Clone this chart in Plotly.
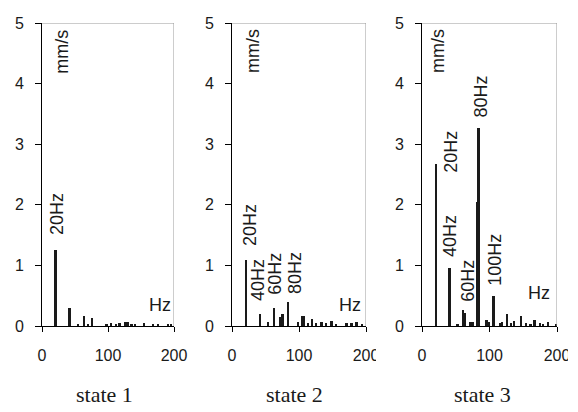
import plotly.graph_objects as go

# ---- data ----
s1_freq = [21, 42, 55, 64, 70, 76, 98, 105, 112, 118, 127, 131, 136, 141, 155, 169, 176, 191, 196]
s1_amp = [1.25, 0.29, 0.03, 0.165, 0.03, 0.13, 0.03, 0.05, 0.04, 0.05, 0.06, 0.06, 0.04, 0.03, 0.05, 0.03, 0.03, 0.04, 0.04]

s2_freq = [21, 42, 54, 63, 73, 76, 84, 99, 105, 108, 114, 120, 126, 134, 141, 149, 156, 171, 179, 186, 194]
s2_amp = [1.09, 0.2, 0.06, 0.3, 0.15, 0.2, 0.4, 0.06, 0.17, 0.16, 0.05, 0.12, 0.05, 0.06, 0.05, 0.09, 0.04, 0.05, 0.05, 0.06, 0.04]

s3_freq = [21, 41, 53, 61, 64, 72, 75, 82.5, 84, 96, 99, 106, 116, 119, 126, 132, 137, 147, 154, 161, 167, 175, 180, 187, 199]
s3_amp = [2.67, 0.96, 0.04, 0.26, 0.22, 0.06, 0.06, 2.05, 3.27, 0.1, 0.07, 0.5, 0.05, 0.07, 0.2, 0.05, 0.08, 0.17, 0.05, 0.04, 0.1, 0.05, 0.04, 0.06, 0.03]

state_labels = ["state 1", "state 2", "state 3"]
x_ticks = [0, 100, 200]
y_ticks = [0, 1, 2, 3, 4, 5]

# peak labels: (text, freq position, amplitude position)
peaks1 = [("20Hz", 22.7, 1.47)]
peaks2 = [("20Hz", 27, 1.29), ("40Hz", 39, 0.38), ("60Hz", 64, 0.48), ("80Hz", 95, 0.49)]
peaks3 = [("20Hz", 42.6, 2.49), ("40Hz", 42.6, 1.1), ("60Hz", 69, 0.36), ("80Hz", 86.8, 3.4), ("100Hz", 108, 0.63)]
unit_pos = [(31, 198.5, 0.35), (31, 195.5, 0.35), (23.5, 192.6, 0.54)]

W, H = 578, 412
x_dom_px = [(42, 174), (232, 366), (422, 557)]
y_dom = [(H - 326) / H, (H - 23) / H]
state_x_px = [104, 294, 482]
clip_px = [(376, 386), (568, 578)]   # the cut-off ends of the "200" labels

SANS = "Liberation Sans, Arial, sans-serif"
SERIF = "Liberation Serif, Times New Roman, serif"
INK = "#1a1a1a"

fig = go.Figure()
series = [(s1_freq, s1_amp), (s2_freq, s2_amp), (s3_freq, s3_amp)]
peaks = [peaks1, peaks2, peaks3]

for i, (fx, fy) in enumerate(series):
    n = "" if i == 0 else str(i + 1)
    fig.add_trace(go.Bar(x=fx, y=fy, width=2.8, marker=dict(color=INK, line=dict(width=0)),
                         xaxis="x" + n, yaxis="y" + n, showlegend=False))
    d0, d1 = x_dom_px[i]
    fig.layout["xaxis" + n] = dict(
        domain=[d0 / W, d1 / W], range=[0, 200], tickvals=x_ticks, ticks="outside", ticklen=5,
        tickcolor="black", showline=True, linecolor="black", linewidth=1, showgrid=False,
        zeroline=False, anchor="y" + n, tickfont=dict(family=SANS, size=16, color=INK),
        ticklabelstandoff=10, fixedrange=True, automargin=False)
    fig.layout["yaxis" + n] = dict(
        domain=list(y_dom), range=[0, 5], tickvals=y_ticks, ticks="outside", ticklen=6,
        tickcolor="black", showline=True, linecolor="black", linewidth=1, showgrid=False,
        zeroline=False, anchor="x" + n, tickfont=dict(family=SANS, size=16, color=INK),
        ticklabelstandoff=8, fixedrange=True, automargin=False)
    # gray top and right frame
    fig.add_shape(type="line", xref="x" + n, yref="y" + n, x0=0, x1=200, y0=5, y1=5,
                  line=dict(color="#9a9a9a", width=1))
    fig.add_shape(type="line", xref="x" + n, yref="y" + n, x0=200, x1=200, y0=0, y1=5,
                  line=dict(color="#9a9a9a", width=1))
    # peak labels
    for txt, px, py in peaks[i]:
        fig.add_annotation(text=txt, x=px, y=py, xref="x" + n, yref="y" + n, textangle=-90,
                           xanchor="center", yanchor="bottom", showarrow=False,
                           font=dict(family=SANS, size=18, color=INK))
    ux, hzx, hzy = unit_pos[i]
    fig.add_annotation(text="mm/s", x=ux, y=4.93, xref="x" + n, yref="y" + n, textangle=-90,
                       xanchor="center", yanchor="top", showarrow=False,
                       font=dict(family=SANS, size=18, color=INK))
    fig.add_annotation(text="Hz", x=hzx, y=hzy, xref="x" + n, yref="y" + n,
                       xanchor="right", yanchor="middle", showarrow=False,
                       font=dict(family=SANS, size=18, color=INK))
    fig.add_annotation(text=state_labels[i], x=state_x_px[i] / W, y=(H - 394) / H,
                       xref="paper", yref="paper", xanchor="center", yanchor="middle",
                       showarrow=False, font=dict(family=SERIF, size=22, color=INK))

# the reference's "200" labels of panels 2 and 3 are cut off at their right end
for c0, c1 in clip_px:
    fig.add_shape(type="rect", xref="paper", yref="paper", x0=c0 / W, x1=c1 / W,
                  y0=(H - 368) / H, y1=(H - 342) / H, fillcolor="white",
                  line=dict(width=0), layer="above")

fig.update_layout(width=W, height=H, margin=dict(l=0, r=0, t=0, b=0, autoexpand=False),
                  paper_bgcolor="white", plot_bgcolor="white", barmode="overlay", bargap=0)

fig.write_html("out.html", config={"displayModeBar": False},
               post_script="document.body.style.margin='0';")
